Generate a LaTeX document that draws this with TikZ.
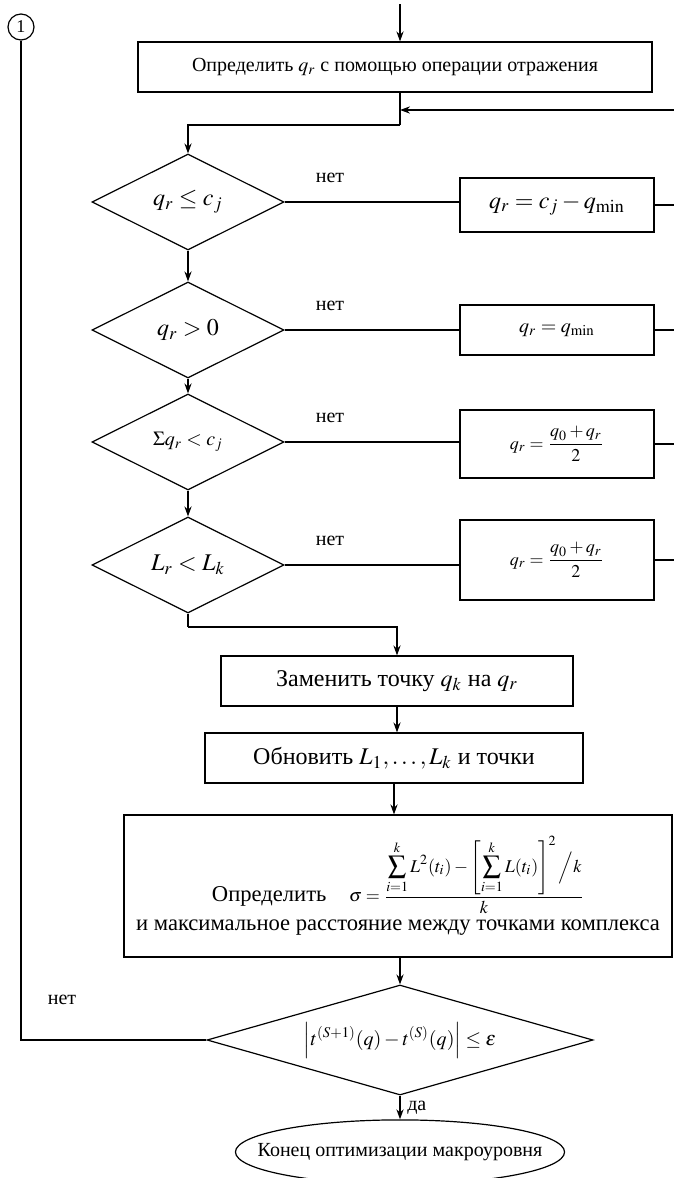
\documentclass[tikz,border=0pt]{standalone}
\usepackage{amsmath}
\usepackage{mathptmx}
\usepackage[no-math]{fontspec}
\setmainfont{Liberation Serif}
\usetikzlibrary{shapes.geometric, arrows.meta}

\begin{document}
\begin{tikzpicture}[x=0.5pt, y=-0.5pt, >={Stealth[length=5pt, width=3.6pt]}, line width=0.6pt,
    box/.style={draw, rectangle, inner sep=2pt, align=center},
    cond/.style={draw, diamond, inner sep=0pt, minimum width=96pt, minimum height=48pt, font=\large},
    no/.style={font=\normalsize}]
    \useasboundingbox (0,0) rectangle (674,1178);

    % Connector
    \node[draw, circle, minimum size=13pt, inner sep=0pt, font=\small] (c1) at (21,27) {1};

    % Main column
    \coordinate (start) at (400,4);
    \node[box, minimum width=257pt, minimum height=25pt] (init) at (395,67)
        {Определить $q_r$ с помощью операции отражения};
    \coordinate (back) at (674,110);
    \coordinate (merge) at (400,110);
    \coordinate (turn) at (400,125);

    % Checks
    \node[cond] (d1) at (188,202) {$q_r \le c_j$};
    \node[cond] (d2) at (188,330) {$q_r > 0$};
    \node[cond, font=\normalsize] (d3) at (188,442) {$\Sigma q_r < c_j$};
    \node[cond] (d4) at (188,565) {$L_r < L_k$};

    % Corrections
    \node[box, minimum width=97pt, minimum height=27pt, font=\large] (b1) at (557,205) {$q_r = c_j - q_{\min}$};
    \node[box, minimum width=97pt, minimum height=25pt] (b2) at (557,330) {$q_r = q_{\min}$};
    \node[box, minimum width=97pt, minimum height=34pt, font=\small] (b3) at (557,444) {$q_r = \dfrac{q_0 + q_r}{2}$};
    \node[box, minimum width=97pt, minimum height=40pt, font=\small] (b4) at (557,560) {$q_r = \dfrac{q_0 + q_r}{2}$};

    % Lower part
    \coordinate (low) at (188,627);
    \node[box, minimum width=176pt, minimum height=25pt, font=\large] (repl) at (397,681) {Заменить точку $q_k$ на $q_r$};
    \node[box, minimum width=189pt, minimum height=25pt, font=\large] (upd) at (394,758) {Обновить $L_1, \ldots, L_k$ и точки};
    \node[box, minimum width=274pt, minimum height=71pt, font=\fontsize{11.3}{13.5}\selectfont] (sig) at (398,886)
        {Определить\quad {\small$\sigma = \dfrac{\displaystyle\sum_{i=1}^{k} L^2(t_i) - \left[\sum_{i=1}^{k} L(t_i)\right]^2 \Big/ k}{k}$}\\[1pt]
         и максимальное расстояние между точками комплекса};
    \node[cond, font=\normalsize, aspect=3.5, minimum width=193pt, minimum height=55pt] (d5) at (400,1040)
        {$\left| t^{(S+1)}(q) - t^{(S)}(q) \right| \le \varepsilon$};
    \node[draw, ellipse, inner xsep=-13pt, inner ysep=7pt] (fin) at (400,1152)
        {Конец оптимизации макроуровня};

    % Arrows
    \draw[->] (start) -- (start |- init.north);
    \draw (init.south -| turn) -- (turn);
    \draw[->] (turn) -| (d1.north);
    \draw[->] (back) -- (merge);
    \draw[->] (d1.south) -- (d2.north);
    \draw[->] (d2.south) -- (d3.north);
    \draw[->] (d3.south) -- (d4.north);
    \draw (d4.south) -- (low);
    \draw[->] (low) -| (repl.north);
    \draw[->] (repl.south) -- (repl.south |- upd.north);
    \draw[->] (upd.south) -- (upd.south |- sig.north);
    \draw[->] (sig.south -| d5.north) -- (d5.north);
    \draw[->] (d5.south) -- node[right] {да} (fin.north);
    \draw (d5.west) -| (c1.south);
    \node[no] at (62,1000) {нет};

    % No branches
    \foreach \d/\b in {d1/b1, d2/b2, d3/b3, d4/b4} {
        \draw (\d.east) -- node[no, pos=0.26, above=6pt] {нет} (\d.east -| \b.west);
        \draw (\b.east) -- (\b.east -| back);
    }
\end{tikzpicture}
\end{document}
